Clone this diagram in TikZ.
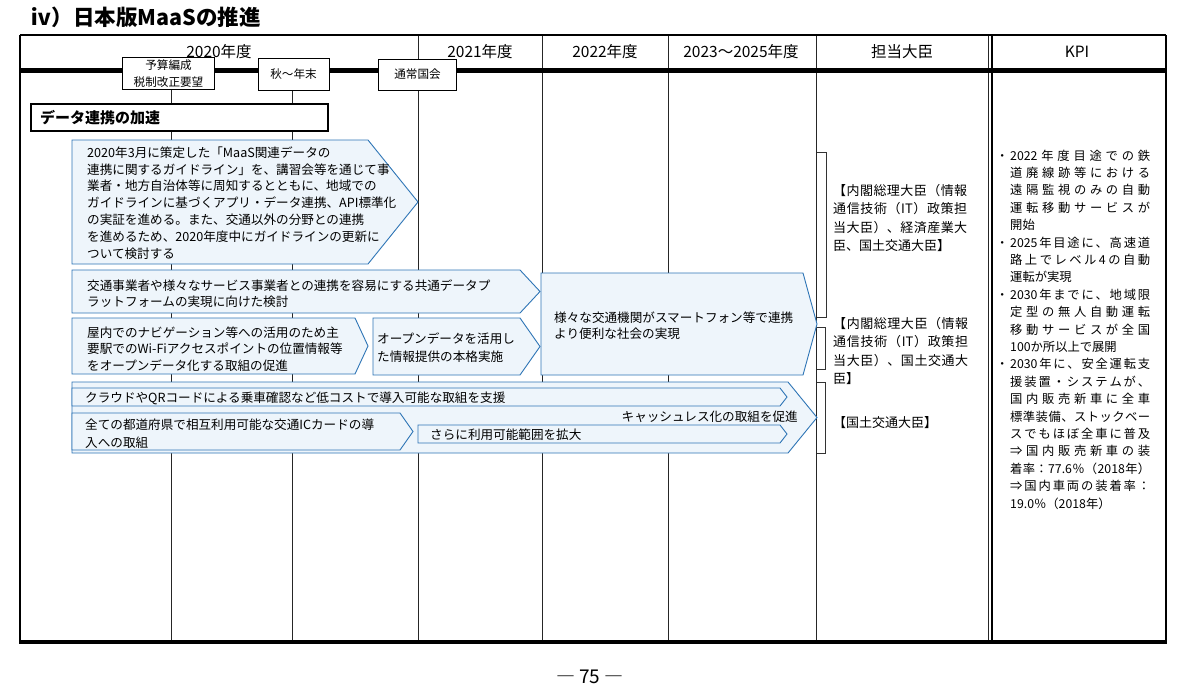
\documentclass[tikz,border=0pt]{standalone}
\usepackage{fontspec}
\setmainfont{Noto Sans CJK JP}
\definecolor{arrowblue}{HTML}{2E75B6}
\definecolor{arrowfill}{HTML}{EEF5FB}
\def\JSi#1#2\JSend{#1\ifx\relax#2\relax\else\hfill\JSi#2\JSend\fi}
\newcommand\JL[2]{\hbox to #1pt{\JSi#2\JSend}}
\newcommand\Bu{\makebox[14pt][l]{・}}
\newcommand\In{\makebox[14pt][l]{}}
\begin{document}
\begin{tikzpicture}[x=1pt,y=-1pt,
  gridline/.style={line width=0.8pt, black!85},
  abox/.style={draw=arrowblue, fill=arrowfill, line width=0.9pt, line join=miter},
  btxt/.style={anchor=north west, inner sep=0pt, align=left},
  hdr/.style={font=\fontsize{15.5}{15.5}\selectfont, inner sep=0pt},
  smallbox/.style={draw, fill=white, line width=0.9pt, inner sep=0pt, align=center,
     font=\fontsize{11.6}{17}\selectfont},
  onel/.style={inner sep=0pt, font=\fontsize{12.6}{12.6}\selectfont},
  brk/.style={line width=0.7pt, black!80}
]
\useasboundingbox (0,0) rectangle (1191,686);
\fill[white] (0,0) rectangle (1191,686);

% title
\node[anchor=west, inner sep=0pt, font=\bfseries\fontsize{21.5}{21.5}\selectfont] (title) at (30,17) {ⅳ）日本版MaaSの推進};

% grid lines
\foreach \gx in {418,542,668,816,988} \draw[gridline] (\gx,35) -- (\gx,642);
\foreach \gx in {171,292} \draw[gridline] (\gx,90) -- (\gx,642);
\draw[line width=2.6pt] (992,35) -- (992,642);
% outer frame
\draw[line width=1.8pt] (20,35) -- (1166,35);
\draw[line width=1.8pt] (20,35) -- (20,642);
\draw[line width=2.6pt] (1166,35) -- (1166,643);
\draw[line width=3.5pt] (19,642) -- (1167,642);
% header thick line
\draw[line width=5pt] (20,70) -- (1166,70);

% header texts
\node[hdr] (h2020) at (219,52) {2020年度};
\node[hdr] (h2021) at (480,52) {2021年度};
\node[hdr] (h2022) at (605,52) {2022年度};
\node[hdr] (h2023) at (741,52) {2023～2025年度};
\node[hdr] (htan) at (902,52) {担当大臣};
\node[hdr] (hkpi) at (1077,52) {KPI};

% milestone boxes
\node[smallbox, minimum width=92pt, minimum height=32pt] (m1) at (168.5,73.5) {予算編成\\税制改正要望};
\node[smallbox, minimum width=71pt, minimum height=32pt] (m2) at (293.5,74) {秋～年末};
\node[smallbox, minimum width=78pt, minimum height=31pt] (m3) at (417.5,74.5) {通常国会};

% section box
\draw[line width=2pt, fill=white] (31,104) rectangle (328,131);
\node[anchor=west, inner sep=0pt, font=\bfseries\fontsize{15}{15}\selectfont] (sec) at (40,117.5) {データ連携の加速};

% arrow boxes
\draw[abox] (72,140) -- (368,140) -- (418,202) -- (368,264) -- (72,264) -- cycle;
\draw[abox] (72,270) -- (520,270) -- (540,291.5) -- (520,313) -- (72,313) -- cycle;
\draw[abox] (72,318) -- (355,318) -- (368,346) -- (355,374) -- (72,374) -- cycle;
\draw[abox] (373,318) -- (520,318) -- (540,346.5) -- (520,375) -- (373,375) -- cycle;
\draw[abox] (541,273) -- (803,273) -- (817,324) -- (803,375) -- (541,375) -- cycle;
\draw[abox] (72,382) -- (788,382) -- (817,417.5) -- (788,453) -- (72,453) -- cycle;
\draw[abox] (72,388) -- (780,388) -- (787,397) -- (780,406) -- (72,406) -- cycle;
\draw[abox] (72,413) -- (400,413) -- (413,431.5) -- (400,450) -- (72,450) -- cycle;
\draw[abox] (418,425) -- (780,425) -- (787,434) -- (780,443) -- (418,443) -- cycle;

% box texts
\node[btxt, font=\fontsize{12.6}{16.8}\selectfont] (t1) at (87,146.3) {2020年3月に策定した「MaaS関連データの\\連携に関するガイドライン」を、講習会等を通じて事\\業者・地方自治体等に周知するとともに、地域での\\ガイドラインに基づくアプリ・データ連携、API標準化\\の実証を進める。また、交通以外の分野との連携\\を進めるため、2020年度中にガイドラインの更新に\\ついて検討する};
\node[btxt, font=\fontsize{12.6}{16}\selectfont] (t2) at (87,279.3) {交通事業者や様々なサービス事業者との連携を容易にする共通データプ\\ラットフォームの実現に向けた検討};
\node[btxt, font=\fontsize{12.6}{16.5}\selectfont] (t3) at (87,326.3) {屋内でのナビゲーション等への活用のため主\\要駅でのWi-Fiアクセスポイントの位置情報等\\をオープンデータ化する取組の促進};
\node[btxt, font=\fontsize{12.6}{18.4}\selectfont] (t4) at (377,332.3) {オープンデータを活用し\\た情報提供の本格実施};
\node[btxt, font=\fontsize{12.6}{16.5}\selectfont] (t5) at (554,311.3) {様々な交通機関がスマートフォン等で連携\\より便利な社会の実現};
\node[onel, anchor=west] (t6) at (85,398) {クラウドやQRコードによる乗車確認など低コストで導入可能な取組を支援};
\node[onel, anchor=east] (t6b) at (798,417) {キャッシュレス化の取組を促進};
\node[btxt, font=\fontsize{12.6}{18}\selectfont] (t7) at (85,418.3) {全ての都道府県で相互利用可能な交通ICカードの導\\入への取組};
\node[onel, anchor=west] (t8) at (430,435) {さらに利用可能範囲を拡大};

% brackets
\draw[brk] (817,152) -- (826,152) -- (826,317) -- (817,317);
\draw[brk] (817,327) -- (825,327) -- (825,369) -- (817,369);
\draw[brk] (817,382) -- (825,382) -- (825,453) -- (817,453);

% minister texts
\node[btxt, font=\fontsize{13}{18.3}\selectfont] (ma) at (833,184.2) {\JL{134}{【内閣総理大臣（情報}\\\JL{134}{通信技術（{IT}）政策担}\\\JL{134}{当大臣）、経済産業大}\\臣、国土交通大臣】};
\node[btxt, font=\fontsize{13}{18.3}\selectfont] (mb) at (833,317.2) {\JL{135}{【内閣総理大臣（情報}\\\JL{135}{通信技術（{IT}）政策担}\\\JL{135}{当大臣）、国土交通大}\\臣】};
\node[anchor=west, inner sep=0pt, font=\fontsize{13}{13}\selectfont] (mc) at (833,423) {【国土交通大臣】};

% KPI
\node[btxt, font=\fontsize{12.3}{17.4}\selectfont] (kpi) at (996,149.5) {%
\Bu\JL{140}{{2022}年度目途での鉄}\\
\In\JL{140}{道廃線跡等における}\\
\In\JL{140}{遠隔監視のみの自動}\\
\In\JL{140}{運転移動サービスが}\\
\In 開始\\
\Bu\JL{140}{{2025}年目途に、高速道}\\
\In\JL{140}{路上でレベル4の自動}\\
\In 運転が実現\\
\Bu\JL{140}{{2030}年までに、地域限}\\
\In\JL{140}{定型の無人自動運転}\\
\In\JL{140}{移動サービスが全国}\\
\In 100か所以上で展開\\
\Bu\JL{140}{{2030}年に、安全運転支}\\
\In\JL{140}{援装置・システムが、}\\
\In\JL{140}{国内販売新車に全車}\\
\In\JL{140}{標準装備、ストックベー}\\
\In\JL{140}{スでもほぼ全車に普及}\\
\In\JL{140}{⇒国内販売新車の装}\\
\In\JL{140}{着率：{77.6}％（{2018}年）}\\
\In\JL{140}{⇒国内車両の装着率：}\\
\In 19.0％（2018年）};

% page number
\node[inner sep=0pt, font=\fontsize{19}{19}\selectfont] (page) at (590,677) {― 75 ―};
\end{tikzpicture}
\end{document}
